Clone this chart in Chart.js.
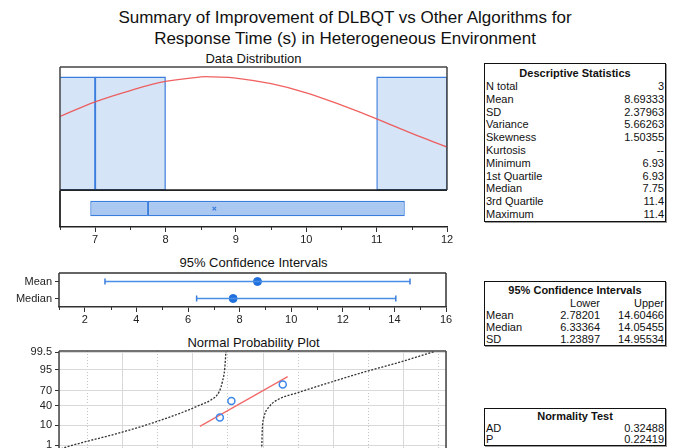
<!DOCTYPE html>
<html lang="en">
<head>
<meta charset="UTF-8" />
<title>Summary of Improvement of DLBQT</title>
<script src="https://cdn.jsdelivr.net/npm/chart.js"></script>
<style>
  body {
    margin: 0;
    width: 674px;
    height: 448px;
    overflow: hidden;
    position: relative;
    background: #fff;
    font-family: 'Liberation Sans', Arial, sans-serif;
    color: #111;
  }
  .title { position: absolute; left: 16px; width: 658px; top: 7px; text-align: center; font-size: 17px; line-height: 21px; }
  .sub { position: absolute; left: 60px; width: 387px; text-align: center; font-size: 13px; line-height: 15px; }
  canvas { position: absolute; }
  .tbl { position: absolute; left: 484px; width: 180px; border: 1px solid #111; box-shadow: 1px 1px 0 #999; font-size: 11px; }
  .tbl .hd { text-align: center; font-weight: bold; }
  .tbl .row { display: flex; justify-content: space-between; padding: 0 1px; }
  .tbl .ci { display: grid; grid-template-columns: 52px 62px 64px; padding: 0 1px; }
  .tbl .ci span + span { text-align: right; }
</style>
</head>
<body>
  <div class="title">Summary of Improvement of DLBQT vs Other Algorithms for<br>Response Time (s) in Heterogeneous Environment</div>
  <div class="sub" style="top:51px">Data Distribution</div>
  <div class="sub" style="top:255px">95% Confidence Intervals</div>
  <div class="sub" style="top:335px">Normal Probability Plot</div>

  <canvas id="hist" width="397" height="133" style="left:55px;top:62px"></canvas>
  <canvas id="box" width="430" height="65" style="left:40px;top:185px"></canvas>
  <canvas id="ci" width="470" height="68" style="left:0;top:259px"></canvas>
  <canvas id="prob" width="470" height="138" style="left:0;top:337px"></canvas>

  <div class="tbl" id="descTbl" style="top:63px;padding-top:2px"></div>
  <div class="tbl" id="ciTbl" style="top:281px;padding-top:2px"></div>
  <div class="tbl" id="normTbl" style="top:408px"></div>

<script>
  // raw data
  const values = [6.93, 7.75, 11.4];

  // histogram (bin centres, counts) and fitted normal curve
  const binCenters = [6.5, 7.5, 11.5];
  const binCounts = [1, 1, 1];
  const curveX = [6.5, 7, 7.5, 8, 8.5, 8.69, 9, 9.5, 10, 10.5, 11, 11.5, 12];
  const curveY = [0.65, 0.78, 0.88, 0.96, 1.0, 1.0, 0.99, 0.94, 0.86, 0.75, 0.63, 0.5, 0.38];

  // box plot
  const q1 = 6.93, median = 7.75, q3 = 11.4, mean = 8.69333;

  // confidence intervals
  const ciLabels = ['Mean', 'Median'];
  const ciLower = [2.78201, 6.33364];
  const ciUpper = [14.60466, 14.05455];
  const ciEst = [8.69333, 7.75];

  // normal probability plot (y in normal score units)
  const probTickZ = [-2.326, -1.282, -0.253, 0.524, 1.645, 2.576];
  const probTickLabels = ['1', '10', '40', '70', '95', '99.5'];
  const probPointZ = [-0.87, 0, 0.87];
  const fitX = [5.51, 11.75];
  const fitZ = [-1.34, 1.28];
  const bandLeftX = [-4.6, -3.76, -0.09, 2.27, 4.63, 5.34, 6.29, 6.88, 7.11, 7.28, 7.36];
  const bandLeftZ = [-2.576, -2.38, -1.66, -1.13, -0.5, -0.27, 0.05, 0.48, 1.01, 1.72, 2.59];
  const bandRightX = [9.88, 9.91, 9.95, 10.07, 10.43, 11.13, 12.32, 14.91, 17.28, 19.65, 22.13];
  const bandRightZ = [-2.576, -2.38, -1.45, -0.84, -0.31, 0.1, 0.4, 1.01, 1.54, 2.03, 2.59];

  // tables
  const descNames = ['N total', 'Mean', 'SD', 'Variance', 'Skewness', 'Kurtosis', 'Minimum', '1st Quartile', 'Median', '3rd Quartile', 'Maximum'];
  const descValues = ['3', '8.69333', '2.37963', '5.66263', '1.50355', '--', '6.93', '6.93', '7.75', '11.4', '11.4'];
  const ciTblRows = ['Mean', 'Median', 'SD'];
  const ciTblLower = ['2.78201', '6.33364', '1.23897'];
  const ciTblUpper = ['14.60466', '14.05455', '14.95534'];
  const normNames = ['AD', 'P'];
  const normValues = ['0.32488', '0.22419'];

  Chart.defaults.font.family = "'Liberation Sans', Arial, sans-serif";
  Chart.defaults.font.size = 11;
  Chart.defaults.color = '#222';
  Chart.defaults.animation = false;
  Chart.defaults.responsive = false;
  Chart.defaults.plugins.legend.display = false;
  Chart.defaults.plugins.tooltip.enabled = false;

  const BLUE = '#3b7ddd';

  // frame lines round the plot area
  const framePlugin = {
    id: 'frame',
    afterDraw(chart, args, opts) {
      const a = chart.chartArea, ctx = chart.ctx;
      const sides = opts.sides || 'trbl';
      ctx.save();
      ctx.strokeStyle = opts.color || '#444';
      ctx.lineWidth = opts.width || 1.5;
      ctx.beginPath();
      if (sides.includes('t')) { ctx.moveTo(a.left, a.top); ctx.lineTo(a.right, a.top); }
      if (sides.includes('r')) { ctx.moveTo(a.right, a.top); ctx.lineTo(a.right, a.bottom); }
      if (sides.includes('b')) { ctx.moveTo(a.left, a.bottom); ctx.lineTo(a.right, a.bottom); }
      if (sides.includes('l')) { ctx.moveTo(a.left, a.top); ctx.lineTo(a.left, a.bottom); }
      ctx.stroke();
      ctx.restore();
    }
  };

  // short unlabeled ticks between the major ones
  const minorTicksPlugin = {
    id: 'minorTicks',
    afterDraw(chart, args, opts) {
      if (!opts.values) return;
      const sc = chart.scales.x, ctx = chart.ctx, y0 = chart.chartArea.bottom;
      ctx.save();
      ctx.strokeStyle = '#333';
      ctx.lineWidth = 1;
      ctx.beginPath();
      opts.values.forEach(v => {
        const px = Math.round(sc.getPixelForValue(v)) + 0.5;
        ctx.moveTo(px, y0);
        ctx.lineTo(px, y0 + 3);
      });
      ctx.stroke();
      ctx.restore();
    }
  };

  function stepsBetween(from, to, step) {
    const out = [];
    for (let v = from; v <= to + 1e-9; v += step) out.push(v);
    return out;
  }

  // --- histogram with fitted curve
  new Chart(document.getElementById('hist'), {
    type: 'bar',
    data: {
      datasets: [{
        type: 'line',
        data: curveX.map((x, i) => ({ x: x, y: curveY[i] })),
        borderColor: 'rgba(238,80,80,0.9)',
        borderWidth: 1.3,
        pointRadius: 0,
        tension: 0.4,
        order: 0
      }, {
        data: binCenters.map((x, i) => ({ x: x, y: binCounts[i] })),
        backgroundColor: '#d6e4f7',
        borderColor: BLUE,
        borderWidth: 1.3,
        borderSkipped: false,
        barPercentage: 1,
        categoryPercentage: 1,
        order: 1
      }]
    },
    options: {
      layout: { padding: 5 },
      scales: {
        x: {
          type: 'linear', min: 6.5, max: 12, offset: false, display: false,
          grid: { offset: false },
          ticks: { stepSize: 1, includeBounds: false }
        },
        y: { min: 0, max: 1.088, display: false }
      },
      plugins: { frame: { sides: 'trl', color: '#444' } }
    },
    plugins: [framePlugin]
  });

  // --- box plot under the histogram
  new Chart(document.getElementById('box'), {
    type: 'bar',
    data: {
      labels: ['box'],
      datasets: [{
        type: 'scatter',
        data: [{ x: mean, y: 'box' }],
        pointStyle: 'crossRot',
        pointRadius: 2.5,
        borderColor: BLUE,
        borderWidth: 1.2,
        order: 0
      }, {
        data: [[q1, median]],
        backgroundColor: '#abc8f1',
        borderColor: BLUE,
        borderWidth: 1.3,
        borderSkipped: false,
        barPercentage: 0.42,
        categoryPercentage: 1,
        grouped: false,
        order: 1
      }, {
        data: [[median, q3]],
        backgroundColor: '#abc8f1',
        borderColor: BLUE,
        borderWidth: 1.3,
        borderSkipped: false,
        barPercentage: 0.42,
        categoryPercentage: 1,
        grouped: false,
        order: 1
      }]
    },
    options: {
      indexAxis: 'y',
      layout: { padding: { left: 20, right: 23, top: 5, bottom: 0 } },
      scales: {
        x: {
          type: 'linear', min: 6.5, max: 12, offset: false,
          ticks: { stepSize: 1, includeBounds: false, padding: 1, color: '#222' },
          grid: { drawOnChartArea: false, tickLength: 5, tickColor: '#333' },
          border: { display: true, color: '#222', width: 1.5 },
          afterFit: s => { s.height = 23; }
        },
        y: { display: false }
      },
      plugins: {
        frame: { sides: 'tl', color: '#222', width: 1.8 },
        minorTicks: { values: stepsBetween(6.5, 11.5, 1) }
      }
    },
    plugins: [framePlugin, minorTicksPlugin]
  });

  // --- confidence intervals
  new Chart(document.getElementById('ci'), {
    type: 'line',
    data: {
      datasets: [
        ...ciLabels.map((lab, i) => ({
          data: [{ x: ciLower[i], y: lab }, { x: ciUpper[i], y: lab }],
          borderColor: '#4a8fe6',
          borderWidth: 1.5,
          pointStyle: 'line',
          pointRotation: 90,
          pointRadius: 3,
          pointBorderColor: '#3b7ddd',
          pointBorderWidth: 1.5
        })),
        {
          data: ciLabels.map((lab, i) => ({ x: ciEst[i], y: lab })),
          showLine: false,
          pointStyle: 'circle',
          pointRadius: 4,
          pointBackgroundColor: '#1f6fdc',
          pointBorderColor: '#1f6fdc'
        }
      ]
    },
    options: {
      layout: { padding: { left: 0, right: 24, top: 14, bottom: 0 } },
      scales: {
        x: {
          type: 'linear', min: 1, max: 16,
          ticks: { stepSize: 2, includeBounds: false, padding: 1 },
          grid: { drawOnChartArea: false, tickLength: 5, tickColor: '#333' },
          border: { display: true, color: '#333', width: 1.5 },
          afterFit: s => { s.height = 20; }
        },
        y: {
          type: 'category', labels: ciLabels, offset: true,
          ticks: { padding: 3, autoSkip: false },
          grid: { drawOnChartArea: false, tickLength: 4, tickColor: '#333' },
          border: { display: false },
          afterFit: s => { s.width = 59; }
        }
      },
      plugins: {
        frame: { sides: 'trl', color: '#333' },
        minorTicks: { values: stepsBetween(1, 15, 2) }
      }
    },
    plugins: [framePlugin, minorTicksPlugin]
  });

  // --- normal probability plot
  const dotted = { borderColor: '#333', borderWidth: 1.3, borderDash: [2, 1.5], pointRadius: 0, cubicInterpolationMode: 'monotone' };
  new Chart(document.getElementById('prob'), {
    type: 'line',
    data: {
      datasets: [
        {
          data: values.map((v, i) => ({ x: v, y: probPointZ[i] })),
          showLine: false,
          pointStyle: 'circle',
          pointRadius: 3.5,
          pointBorderWidth: 1.5,
          pointBorderColor: '#3d86ea',
          pointBackgroundColor: 'rgba(255,255,255,0)'
        },
        {
          data: fitX.map((x, i) => ({ x: x, y: fitZ[i] })),
          borderColor: '#f06a6a',
          borderWidth: 1.3,
          pointRadius: 0
        },
        Object.assign({ data: bandLeftX.map((x, i) => ({ x: x, y: bandLeftZ[i] })) }, dotted),
        Object.assign({ data: bandRightX.map((x, i) => ({ x: x, y: bandRightZ[i] })) }, dotted)
      ]
    },
    options: {
      layout: { padding: { left: 0, right: 24, top: 14, bottom: 12 } },
      scales: {
        x: {
          type: 'linear', min: -4.5, max: 23,
          ticks: { display: false, stepSize: 5 },
          grid: { color: '#d9d9d9', drawTicks: false },
          border: { display: false },
          afterFit: s => { s.height = 0; }
        },
        x2: {
          type: 'linear', position: 'bottom', min: -4.5, max: 23,
          ticks: { display: false },
          afterBuildTicks: s => { s.ticks = stepsBetween(-2.5, 22.5, 5).map(v => ({ value: v })); },
          grid: { color: '#c4c4c4', drawTicks: false },
          border: { display: false, dash: [1, 2] },
          afterFit: s => { s.height = 0; }
        },
        y: {
          type: 'linear', min: -3.27, max: 2.63,
          afterBuildTicks: s => { s.ticks = probTickZ.map(v => ({ value: v })); },
          ticks: { padding: 3, callback: (v, i) => probTickLabels[i] },
          grid: { color: '#d9d9d9', tickLength: 4, tickColor: '#333' },
          border: { display: false },
          afterFit: s => { s.width = 59; }
        }
      },
      plugins: { frame: { sides: 'trl', color: '#444' } }
    },
    plugins: [framePlugin]
  });

  // --- side tables
  function simpleRows(names, vals, lh) {
    return names.map((n, i) => `<div class="row" style="line-height:${lh}px"><span>${n}</span><span>${vals[i]}</span></div>`).join('');
  }
  document.getElementById('descTbl').innerHTML =
    '<div class="hd" style="line-height:14px">Descriptive Statistics</div>' + simpleRows(descNames, descValues, 12.8);
  document.getElementById('ciTbl').innerHTML =
    '<div class="hd" style="line-height:13px">95% Confidence Intervals</div>' +
    '<div class="ci" style="line-height:12px"><span></span><span>Lower</span><span>Upper</span></div>' +
    ciTblRows.map((n, i) => `<div class="ci" style="line-height:12px"><span>${n}</span><span>${ciTblLower[i]}</span><span>${ciTblUpper[i]}</span></div>`).join('');
  document.getElementById('normTbl').innerHTML =
    '<div class="hd" style="line-height:14px">Normality Test</div>' + simpleRows(normNames, normValues, 11);
</script>
</body>
</html>
